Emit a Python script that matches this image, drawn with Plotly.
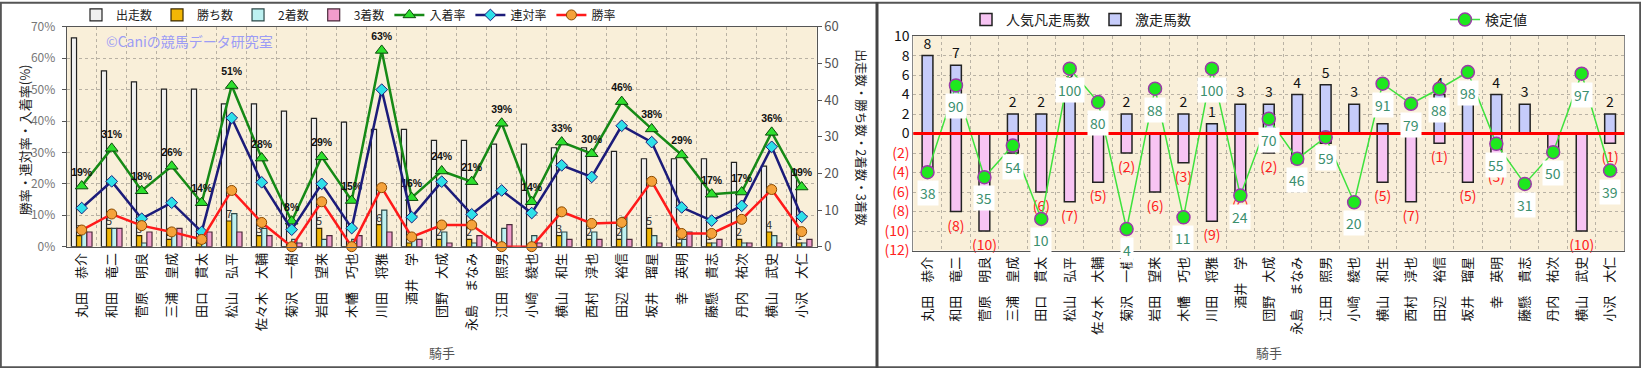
import plotly.graph_objects as go

W, H = 1641, 368

# ---------------- data ----------------
jockeys = ["丸田　恭介", "和田　竜二", "菅原　明良", "三浦　皇成", "田口　貫太", "松山　弘平",
           "佐々木　大輔", "菊沢　一樹", "岩田　望来", "木幡　巧也", "川田　将雅", "酒井　学",
           "団野　大成", "永島　まなみ", "江田　照男", "小崎　綾也", "横山　和生", "西村　淳也",
           "田辺　裕信", "坂井　瑠星", "幸　英明", "藤懸　貴志", "丹内　祐次", "横山　武史", "小沢　大仁"]

runs = [57, 48, 45, 43, 43, 39, 39, 37, 35, 34, 32, 32, 29, 29, 28, 28, 27, 27, 26, 24, 24, 24, 23, 22, 21]
wins = [3, 5, 3, 2, 1, 7, 3, 0, 5, 0, 6, 1, 2, 2, 0, 0, 3, 2, 2, 5, 1, 1, 2, 4, 1]
seconds = [4, 5, 1, 4, 1, 9, 5, 2, 2, 2, 10, 2, 4, 1, 5, 3, 4, 4, 8, 3, 2, 1, 1, 3, 1]
thirds = [4, 5, 4, 5, 4, 4, 3, 1, 3, 3, 4, 2, 1, 3, 6, 1, 2, 2, 2, 1, 4, 2, 1, 1, 2]

place_rate = [19.3, 31.3, 17.8, 25.6, 14.0, 51.3, 28.2, 8.1, 28.6, 14.7, 62.5, 15.6, 24.1,
              20.7, 39.3, 14.3, 33.3, 29.6, 46.2, 37.5, 29.2, 16.7, 17.4, 36.4, 19.0]
quinella_rate = [12.3, 20.8, 8.9, 14.0, 4.7, 41.0, 20.5, 5.4, 20.0, 5.9, 50.0, 9.4, 20.7,
                 10.3, 17.9, 10.7, 25.9, 22.2, 38.5, 33.3, 12.5, 8.3, 13.0, 31.8, 9.5]
win_rate = [5.3, 10.4, 6.7, 4.7, 2.3, 17.9, 7.7, 0.0, 14.3, 0.0, 18.8, 3.1, 6.9,
            6.9, 0.0, 0.0, 11.1, 7.4, 7.7, 20.8, 4.2, 4.2, 8.7, 18.2, 4.8]

surge = [8, 7, 0, 2, 2, 5, 2, 2, 0, 2, 1, 3, 3, 4, 5, 3, 1, 0, 4, 3, 4, 3, 0, 0, 2]
flop = [4, 8, 10, 2, 6, 7, 5, 2, 6, 3, 9, 6, 2, 3, 1, 0, 5, 7, 1, 5, 3, 0, 2, 10, 1]
test_val = [38, 90, 35, 54, 10, 100, 80, 4, 88, 11, 100, 24, 70, 46, 59, 20, 91, 79, 88, 98, 55, 31, 50, 97, 39]

left_ticks_pct = [0, 10, 20, 30, 40, 50, 60, 70]
right_ticks = [10, 8, 6, 4, 2, 0, -2, -4, -6, -8, -10, -12]

FONT = "Noto Sans CJK JP, Liberation Sans, sans-serif"
GRID = "#b9b2a4"
PLOTBG = "#f9efd9"

fig = go.Figure()

# ---------------- left chart: bars ----------------
bw = 0.172
left_bars = [
    ("出走数", runs, "#f0f0f0", "#222222"),
    ("勝ち数", wins, "#f2b705", "#3a2a00"),
    ("2着数", seconds, "#bdf1f1", "#2c4848"),
    ("3着数", thirds, "#f29ccc", "#4a2a3a"),
]
for k, (name, vals, col, lc) in enumerate(left_bars):
    kw = {}
    if name == "勝ち数":
        kw = dict(text=[str(v) if v else "" for v in vals], textposition="outside",
                  textfont=dict(size=11, color="#333333"), constraintext="none", cliponaxis=False)
    fig.add_trace(go.Bar(
        x=jockeys, y=vals, name=name, xaxis="x", yaxis="y",
        width=bw, offset=-2 * bw + k * bw,
        marker=dict(color=col, line=dict(color=lc, width=1.2)),
        legend="legend", **kw))

# ---------------- left chart: lines ----------------
fig.add_trace(go.Scatter(
    x=jockeys, y=place_rate, name="入着率", xaxis="x", yaxis="y2",
    mode="lines+markers+text",
    line=dict(color="#168a16", width=2.5),
    marker=dict(symbol="triangle-up", size=11, color="#2ee02e", line=dict(color="#0b4a0b", width=1)),
    text=[f"{int(v + 0.5)}%" for v in place_rate], textposition="top center",
    textfont=dict(size=10.5, color="#111111", family="Liberation Sans", weight="bold"),
    cliponaxis=False, legend="legend"))
fig.add_trace(go.Scatter(
    x=jockeys, y=quinella_rate, name="連対率", xaxis="x", yaxis="y2",
    mode="lines+markers",
    line=dict(color="#1c1c7a", width=2.5),
    marker=dict(symbol="diamond", size=9, color="#2ee0e8", line=dict(color="#1c1c7a", width=1)),
    cliponaxis=False, legend="legend"))
fig.add_trace(go.Scatter(
    x=jockeys, y=win_rate, name="勝率", xaxis="x", yaxis="y2",
    mode="lines+markers",
    line=dict(color="#ff1a1a", width=2.5),
    marker=dict(symbol="circle", size=10, color="#f5a23a", line=dict(color="#8a4a00", width=1)),
    cliponaxis=False, legend="legend"))

# ---------------- right chart ----------------
fig.add_trace(go.Bar(
    x=jockeys, y=[-v for v in flop], name="人気凡走馬数", xaxis="x2", yaxis="y3",
    width=0.38, offset=-0.19,
    marker=dict(color="#f7c4f3", line=dict(color="#222222", width=1.5)),
    text=[f"({v})" if v else "" for v in flop], textposition="outside",
    textfont=dict(size=14, color="#ff2020"), constraintext="none", cliponaxis=False,
    legend="legend2"))
fig.add_trace(go.Bar(
    x=jockeys, y=surge, name="激走馬数", xaxis="x2", yaxis="y3",
    width=0.38, offset=-0.19,
    marker=dict(color="#c6ccfa", line=dict(color="#222222", width=1.5)),
    text=[str(v) if v else "" for v in surge], textposition="outside",
    textfont=dict(size=14, color="#111111"), constraintext="none", cliponaxis=False,
    legend="legend2"))
fig.add_trace(go.Scatter(
    x=jockeys, y=test_val, name="検定値", xaxis="x2", yaxis="y4",
    mode="lines+markers",
    line=dict(color="#3ee23e", width=1.5),
    marker=dict(symbol="circle", size=13, color="#1ee81e", line=dict(color="#9a3aa8", width=1.5)),
    cliponaxis=False, legend="legend3"))

annotations = []
for j, v in zip(jockeys, test_val):
    annotations.append(dict(x=j, y=v, xref="x2", yref="y4", text=str(v), showarrow=False,
                            xanchor="center", yanchor="middle",
                            yshift=-21, bgcolor="white", borderpad=2,
                            font=dict(size=14, color="#3b8f6e")))

annotations += [
    dict(x=24 / W, y=1 - 139 / H, xref="paper", yref="paper", text="勝率・連対率・入着率(%)",
         xanchor="center", yanchor="middle",
         textangle=-90, showarrow=False, font=dict(size=13, color="#222222")),
    dict(x=862 / W, y=1 - 136 / H, xref="paper", yref="paper", text="出走数・勝ち数・2着数・3着数",
         xanchor="center", yanchor="middle",
         textangle=90, showarrow=False, font=dict(size=12.5, color="#222222")),
    dict(x=104 / W, y=1 - 39 / H, xref="paper", yref="paper", xanchor="left", yanchor="middle",
         text="©Caniの競馬データ研究室", showarrow=False, font=dict(size=14, color="#9c9cf5")),
    dict(x=442 / W, y=1 - 352 / H, xref="paper", yref="paper", text="騎手",
         xanchor="center", yanchor="middle",
         showarrow=False, font=dict(size=13, color="#555555")),
    dict(x=1269 / W, y=1 - 352 / H, xref="paper", yref="paper", text="騎手",
         xanchor="center", yanchor="middle",
         showarrow=False, font=dict(size=13, color="#555555")),
]

shapes = [
    dict(type="line", xref="x2 domain", yref="y3", x0=0, x1=1, y0=0, y1=0,
         line=dict(color="#ff0000", width=3), layer="above"),
    dict(type="rect", xref="paper", yref="paper", x0=0.0005, x1=0.9995, y0=0.002, y1=0.998,
         line=dict(color="#555555", width=2)),
    dict(type="line", xref="paper", yref="paper", x0=877 / W, x1=877 / W, y0=0, y1=1,
         line=dict(color="#444444", width=3)),
]

xcommon = dict(type="category", tickangle=-90, tickfont=dict(size=13, color="#111111"),
               showgrid=True, gridcolor=GRID, griddash="dot", gridwidth=1, tickson="boundaries",
               showline=True, linecolor="#555555", linewidth=1.2, mirror=True, ticks="",
               range=[-0.5, 24.5], automargin=False, fixedrange=True)

fig.update_layout(
    width=W, height=H,
    margin=dict(l=0, r=0, t=0, b=0),
    paper_bgcolor="white", plot_bgcolor=PLOTBG,
    font=dict(family=FONT, size=13, color="#222222"),
    showlegend=True,
    xaxis=dict(domain=[66.7 / W, 816.7 / W], anchor="y", **xcommon),
    yaxis=dict(domain=[1 - 246 / H, 1 - 25 / H], anchor="x", side="right", range=[0, 60], dtick=10,
               showgrid=False, zeroline=False, tickfont=dict(size=13, color="#555555"),
               ticks="outside", ticklen=4, tickcolor="#555555",
               showline=True, linecolor="#555555", automargin=False),
    yaxis2=dict(overlaying="y", anchor="x", side="left", range=[0, 70],
                tickvals=left_ticks_pct, ticktext=[f"{t}%" for t in left_ticks_pct],
                showgrid=True, gridcolor=GRID, griddash="dot", zeroline=False,
                tickfont=dict(size=12, color="#777777"), ticks="outside", ticklen=4, tickcolor="#555555",
                ticklabelstandoff=4,
                showline=True, linecolor="#555555", automargin=False),
    xaxis2=dict(domain=[913.3 / W, 1624.3 / W], anchor="y3", **xcommon),
    yaxis3=dict(domain=[1 - 249.9 / H, 1 - 34.3 / H], anchor="x2", range=[-12, 10],
                tickvals=right_ticks,
                ticktext=[str(t) if t >= 0 else f"<span style='color:#ff2020'>({-t})</span>" for t in right_ticks],
                tickfont=dict(size=14, color="#111111"),
                showgrid=True, gridcolor=GRID, griddash="dot", zeroline=False,
                showline=True, linecolor="#888888", mirror=True, ticks="", automargin=False),
    yaxis4=dict(overlaying="y3", anchor="x2", range=[-8.9, 119.5], visible=False),
    legend=dict(orientation="h", x=76 / W, y=1 - 13 / H, xanchor="left", yanchor="middle",
                font=dict(size=12, color="#222222"), bgcolor="rgba(0,0,0,0)", itemwidth=30),
    legend2=dict(orientation="h", x=966 / W, y=1 - 18 / H, xanchor="left", yanchor="middle",
                 font=dict(size=14, color="#222222"), bgcolor="rgba(0,0,0,0)", itemwidth=30),
    legend3=dict(orientation="h", x=1445 / W, y=1 - 18 / H, xanchor="left", yanchor="middle",
                 font=dict(size=14, color="#222222"), bgcolor="rgba(0,0,0,0)", itemwidth=30),
    annotations=annotations,
    shapes=shapes,
)

fig.write_html("out.html", config={"displayModeBar": False},
               post_script="document.body.style.margin='0';document.body.style.overflow='hidden';")
